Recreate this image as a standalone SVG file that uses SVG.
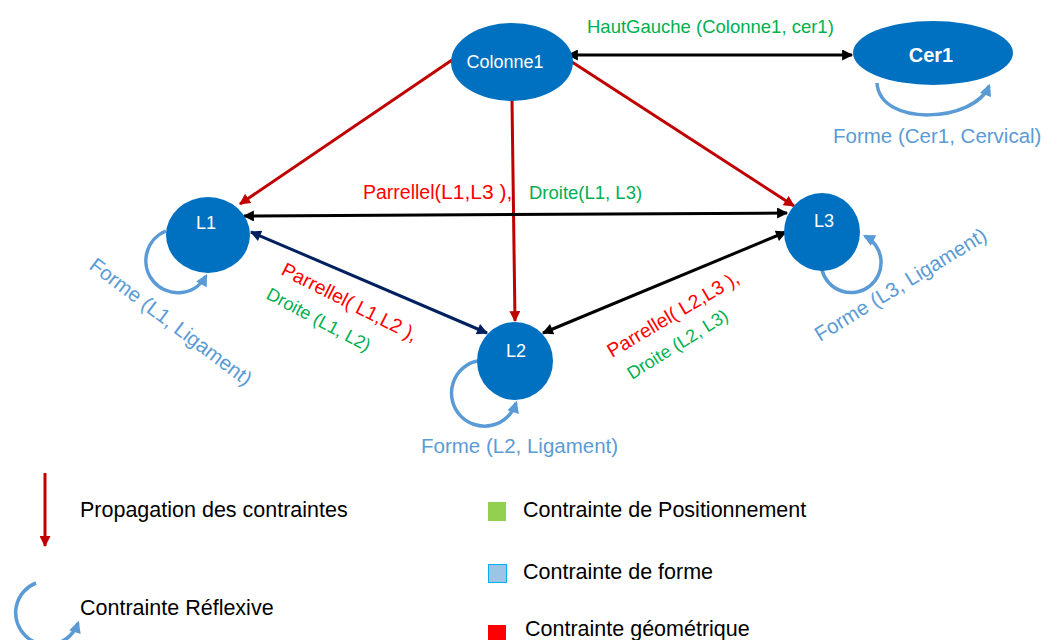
<svg xmlns="http://www.w3.org/2000/svg" width="1046" height="640" viewBox="0 0 1046 640">
<defs>
<style>
text{font-family:"Liberation Sans",Arial,sans-serif}
.node{fill:#0070C0}
.nl{fill:#fff;font-size:18px;text-anchor:middle}
.blk{stroke:#000;stroke-width:3;fill:none;marker-start:url(#ak);marker-end:url(#ak)}
.red{stroke:#C00000;stroke-width:3;fill:none;marker-end:url(#ar)}
.navy{stroke:#002060;stroke-width:3;fill:none;marker-start:url(#an);marker-end:url(#an)}
.loop{stroke:#5B9BD5;stroke-width:3.5;fill:none;marker-end:url(#ab)}
.g{fill:#00B050;font-size:18.5px}
.r{fill:#FF0000;font-size:20px}
.b{fill:#5B9BD5;font-size:20.5px}
.lg{fill:#000;font-size:21.5px}
</style>
<marker id="ak" viewBox="0 0 10 10" refX="9" refY="5" markerWidth="13" markerHeight="11" markerUnits="userSpaceOnUse" orient="auto-start-reverse"><path d="M0,0 L10,5 L0,10 z" fill="#000"/></marker>
<marker id="ar" viewBox="0 0 10 10" refX="9" refY="5" markerWidth="13" markerHeight="11" markerUnits="userSpaceOnUse" orient="auto-start-reverse"><path d="M0,0 L10,5 L0,10 z" fill="#C00000"/></marker>
<marker id="an" viewBox="0 0 10 10" refX="9" refY="5" markerWidth="13" markerHeight="11" markerUnits="userSpaceOnUse" orient="auto-start-reverse"><path d="M0,0 L10,5 L0,10 z" fill="#002060"/></marker>
<marker id="ab" viewBox="0 0 10 10" refX="8" refY="5" markerWidth="13" markerHeight="12" markerUnits="userSpaceOnUse" orient="auto"><path d="M0,0 L10,5 L0,10 z" fill="#5B9BD5"/></marker>
</defs>
<rect width="1046" height="640" fill="#fff"/>

<g id="connectors">
<path class="blk" d="M568,55 L852,55"/>
<path class="red" d="M452,60 L240,204"/>
<path class="red" d="M512,100 L515,321"/>
<path class="red" d="M572,62 L794,206"/>
<path class="blk" d="M244,216 L787,213"/>
<path class="navy" d="M251,232 L487,333"/>
<path class="blk" d="M543,333 L786,232"/>
</g>

<g id="loops">
<path class="loop" d="M166,231 A32,32 0 1 0 206,276"/>
<path class="loop" d="M477,361 A33,33 0 1 0 516,403"/>
<path class="loop" d="M822,270 A30,30 0 1 0 865,236"/>
<path class="loop" d="M877,83 C880,128 975,122 989,86"/>
</g>

<g id="colonne1"><ellipse class="node" cx="512" cy="62" rx="61" ry="39"/><text class="nl" x="505" y="68">Colonne1</text></g>
<g id="cer1"><ellipse class="node" cx="933" cy="53" rx="80" ry="32"/><text class="nl" x="931" y="62" style="font-size:20px;font-weight:bold">Cer1</text></g>
<g id="l1"><ellipse class="node" cx="208" cy="235" rx="42" ry="38"/><text class="nl" x="206" y="229">L1</text></g>
<g id="l2"><ellipse class="node" cx="515" cy="361" rx="38" ry="39"/><text class="nl" x="516" y="357">L2</text></g>
<g id="l3"><ellipse class="node" cx="822" cy="232" rx="38" ry="39"/><text class="nl" x="824" y="227">L3</text></g>

<g id="labels">
<text class="g" x="587" y="33">HautGauche (Colonne1, cer1)</text>
<text class="b" x="833" y="143">Forme (Cer1, Cervical)</text>
<text class="r" x="363" y="199"><tspan style="font-size:19.5px">Parrellel(</tspan><tspan style="font-size:21px">L1,L3 ),</tspan></text>
<text class="g" x="529" y="199">Droite(L1, L3)</text>
<text class="r" transform="translate(280,274) rotate(27)" style="font-size:19.5px">Parrellel( L1,L2 ),</text>
<text class="g" transform="translate(265,298) rotate(28)" style="font-size:18px">Droite (L1, L2)</text>
<text class="r" transform="translate(612,358) rotate(-30.6)" style="font-size:19.5px">Parrellel( L2,L3 ),</text>
<text class="g" transform="translate(632,380) rotate(-32)" style="font-size:18px">Droite (L2, L3)</text>
<text class="b" transform="translate(88,268) rotate(37)">Forme (L1, Ligament)</text>
<text class="b" x="421" y="453">Forme (L2, Ligament)</text>
<text class="b" transform="translate(820,342) rotate(-31.4)">Forme (L3, Ligament)</text>
</g>

<g id="legend">
<path class="red" d="M45,473 L45,546"/>
<text class="lg" x="80" y="517">Propagation des contraintes</text>
<path class="loop" d="M36,583 A32,32 0 1 0 78,623"/>
<text class="lg" x="80" y="615">Contrainte Réflexive</text>
<rect x="488" y="502" width="18" height="19" fill="#92D050"/>
<text class="lg" x="523" y="517">Contrainte de Positionnement</text>
<rect x="488.5" y="564.5" width="18" height="18" fill="#9DC3E6" stroke="#00B0F0" stroke-width="1"/>
<text class="lg" x="523" y="579">Contrainte de forme</text>
<rect x="488" y="625" width="18" height="17" fill="#FF0000"/>
<text class="lg" x="525" y="636">Contrainte géométrique</text>
</g>
</svg>
